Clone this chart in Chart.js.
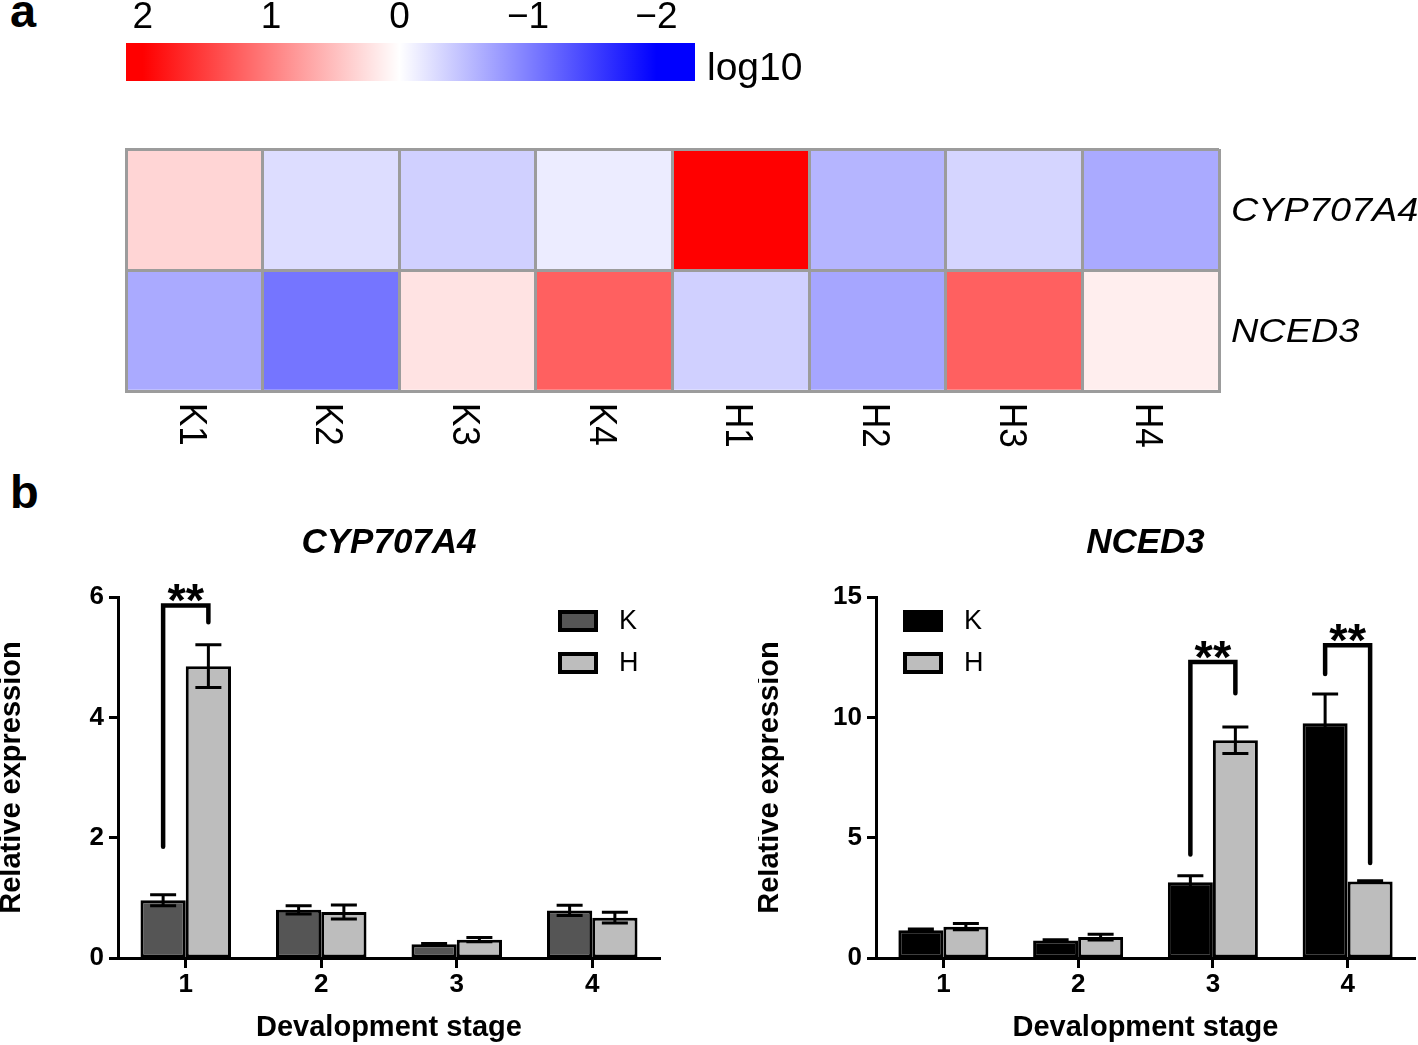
<!DOCTYPE html>
<html>
<head>
<meta charset="utf-8">
<script src="https://cdn.jsdelivr.net/npm/chart.js@4.4.1/dist/chart.umd.min.js"></script>
<style>
  html, body { margin: 0; padding: 0; background: #fff; }
  body { width: 1418px; height: 1045px; position: relative; overflow: hidden;
         font-family: "Liberation Sans", Arial, sans-serif; }
  .box { position: absolute; }
  .panel { position: absolute; font-weight: bold; font-size: 47px; line-height: 1; color: #000; }
</style>
</head>
<body>
<div class="panel" style="left:10px;top:-13px">a</div>
<div class="panel" style="left:10px;top:468px">b</div>

<div class="box" style="left:100px;top:0;width:720px;height:100px"><canvas id="scaleBar"></canvas></div>
<div class="box" style="left:100px;top:130px;width:1318px;height:340px"><canvas id="heatChart"></canvas></div>
<div class="box" style="left:0;top:510px;width:680px;height:535px"><canvas id="cypChart"></canvas></div>
<div class="box" style="left:758px;top:510px;width:660px;height:535px"><canvas id="ncedChart"></canvas></div>

<script>
// ---- heatmap (log10 fold change) ----
const samples = ["K1", "K2", "K3", "K4", "H1", "H2", "H3", "H4"];
const cypLog = [0.33, -0.27, -0.37, -0.15, 2.0, -0.58, -0.33, -0.67];
const ncedLog = [-0.67, -1.08, 0.22, 1.25, -0.37, -0.70, 1.25, 0.13];
const colorTicks = [2, 1, 0, -1, -2];

// ---- qPCR bars ----
const stages = ["1", "2", "3", "4"];
const cypK = [0.96, 0.80, 0.23, 0.79];
const cypKErr = [0.09, 0.07, 0.01, 0.085];
const cypH = [4.85, 0.765, 0.305, 0.67];
const cypHErr = [0.355, 0.115, 0.035, 0.09];
const ncedK = [1.15, 0.73, 3.15, 9.75];
const ncedKErr = [0.05, 0.03, 0.27, 1.22];
const ncedH = [1.30, 0.87, 9.05, 3.18];
const ncedHErr = [0.13, 0.12, 0.55, 0.03];

// significance brackets: stage index, end of K leg, end of H leg, bracket top
const cypSigStage = [0];
const cypSigK = [1.85];
const cypSigH = [5.58];
const cypSigTop = [5.86];
const ncedSigStage = [2, 3];
const ncedSigK = [4.3, 11.8];
const ncedSigH = [11.0, 3.95];
const ncedSigTop = [12.3, 13.0];

const FONT = '"Liberation Sans", Arial, sans-serif';
Chart.defaults.font.family = FONT;
Chart.defaults.color = "#000";

function heatColor(v) {
  const t = Math.min(Math.abs(v) / 2, 1);
  const c = Math.round(255 * (1 - t));
  return v >= 0 ? `rgb(255,${c},${c})` : `rgb(${c},${c},255)`;
}

function minusLabel(t) {
  return t < 0 ? "\u2212" + (-t) : String(t);
}

// colour key
const colorBarPlugin = {
  id: "colorBar",
  afterDraw(chart) {
    const ctx = chart.ctx, x = chart.scales.x, ca = chart.chartArea;
    ctx.save();
    const g = ctx.createLinearGradient(x.getPixelForValue(2), 0, x.getPixelForValue(-2), 0);
    g.addColorStop(0, heatColor(2));
    g.addColorStop(0.5, heatColor(0));
    g.addColorStop(1, heatColor(-2));
    ctx.fillStyle = g;
    ctx.fillRect(ca.left, ca.top, ca.width, ca.height);
    ctx.fillStyle = "#000";
    ctx.font = "37px " + FONT;
    ctx.textAlign = "center";
    ctx.textBaseline = "alphabetic";
    colorTicks.forEach(t => ctx.fillText(minusLabel(t), x.getPixelForValue(t), 28));
    ctx.font = "39px " + FONT;
    ctx.textAlign = "left";
    ctx.fillText("log10", ca.right + 12, 80);
    ctx.restore();
  }
};

new Chart(document.getElementById("scaleBar"), {
  type: "line",
  data: { datasets: [] },
  options: {
    responsive: true, maintainAspectRatio: false, animation: false,
    layout: { padding: { left: 26, right: 125, top: 43, bottom: 19 } },
    scales: {
      x: { type: "linear", reverse: true, min: -2.3, max: 2.13, display: false },
      y: { display: false }
    },
    plugins: { legend: { display: false }, tooltip: { enabled: false } }
  },
  plugins: [colorBarPlugin]
});

// sample and gene labels of the heatmap
const heatLabelPlugin = {
  id: "heatLabels",
  afterDraw(chart) {
    const ctx = chart.ctx, x = chart.scales.x, y = chart.scales.y, ca = chart.chartArea;
    ctx.save();
    ctx.fillStyle = "#000";
    ctx.textAlign = "left";
    ctx.textBaseline = "alphabetic";
    ctx.font = "35px " + FONT;
    samples.forEach((s, i) => {
      ctx.save();
      ctx.translate(x.getPixelForValue(i) - 14.5, ca.bottom + 12);
      ctx.scale(1.12, 1);
      ctx.rotate(Math.PI / 2);
      ctx.fillText(s, 0, 0);
      ctx.restore();
    });
    ctx.font = "italic 32.5px " + FONT;
    chart.data.datasets.forEach((ds, d) => {
      ctx.save();
      ctx.translate(ca.right + 12, y.getPixelForValue(d + 0.5) + 11.7);
      ctx.scale(1.165, 1);
      ctx.fillText(ds.label, 0, 0);
      ctx.restore();
    });
    ctx.restore();
  }
};

const cellLine = "#9c9c9c";
new Chart(document.getElementById("heatChart"), {
  type: "bar",
  data: {
    labels: samples,
    datasets: [
      { label: "NCED3", data: samples.map(() => 1), backgroundColor: ncedLog.map(heatColor) },
      { label: "CYP707A4", data: samples.map(() => 1), backgroundColor: cypLog.map(heatColor) }
    ]
  },
  options: {
    responsive: true, maintainAspectRatio: false, animation: false,
    layout: { padding: { left: 26, right: 199, top: 19, bottom: 79 } },
    datasets: { bar: { barPercentage: 1, categoryPercentage: 1, borderWidth: 0 } },
    scales: {
      x: {
        stacked: true, offset: true, z: 1,
        grid: { offset: true, color: cellLine, lineWidth: 3, drawTicks: false, z: 1 },
        border: { color: cellLine, width: 3, z: 2 },
        ticks: { display: false },
        afterFit: s => { s.height = 0; }
      },
      y: {
        stacked: true, min: 0, max: 2, z: 1,
        grid: { color: cellLine, lineWidth: 3, drawTicks: false, z: 1 },
        border: { color: cellLine, width: 3, z: 2 },
        ticks: { display: false, stepSize: 1 },
        afterFit: s => { s.width = 0; }
      }
    },
    plugins: { legend: { display: false }, tooltip: { enabled: false } }
  },
  plugins: [heatLabelPlugin]
});

// error bars, brackets, title and legend of the bar panels
const panels = {
  cypChart: { title: "CYP707A4", legendX: 558, sig: { stage: cypSigStage, k: cypSigK, h: cypSigH, top: cypSigTop } },
  ncedChart: { title: "NCED3", legendX: 145, sig: { stage: ncedSigStage, k: ncedSigK, h: ncedSigH, top: ncedSigTop } }
};

const annotPlugin = {
  id: "annot",
  afterDatasetsDraw(chart) {
    const ctx = chart.ctx, y = chart.scales.y;
    const p = panels[chart.canvas.id];
    ctx.save();
    ctx.strokeStyle = "#000";
    ctx.lineWidth = 3;
    chart.data.datasets.forEach((ds, d) => {
      chart.getDatasetMeta(d).data.forEach((bar, i) => {
        const v = ds.data[i], e = ds.errors[i];
        const top = y.getPixelForValue(v + e), bot = y.getPixelForValue(v - e);
        ctx.beginPath();
        ctx.moveTo(bar.x, top); ctx.lineTo(bar.x, bot);
        ctx.moveTo(bar.x - 13, top); ctx.lineTo(bar.x + 13, top);
        ctx.moveTo(bar.x - 13, bot); ctx.lineTo(bar.x + 13, bot);
        ctx.stroke();
      });
    });
    ctx.lineWidth = 4.5;
    ctx.lineCap = "round";
    ctx.fillStyle = "#000";
    ctx.font = "bold 47px " + FONT;
    ctx.textAlign = "center";
    ctx.textBaseline = "alphabetic";
    p.sig.stage.forEach((s, j) => {
      const kx = chart.getDatasetMeta(0).data[s].x;
      const hx = chart.getDatasetMeta(1).data[s].x;
      const ty = y.getPixelForValue(p.sig.top[j]);
      ctx.beginPath();
      ctx.moveTo(kx, y.getPixelForValue(p.sig.k[j]));
      ctx.lineTo(kx, ty);
      ctx.lineTo(hx, ty);
      ctx.lineTo(hx, y.getPixelForValue(p.sig.h[j]));
      ctx.stroke();
      ctx.fillText("**", (kx + hx) / 2, ty + 11);
    });
    ctx.restore();
  },
  afterDraw(chart) {
    const ctx = chart.ctx, ca = chart.chartArea;
    const p = panels[chart.canvas.id];
    ctx.save();
    ctx.fillStyle = "#000";
    ctx.font = "italic bold 35px " + FONT;
    ctx.textAlign = "center";
    ctx.textBaseline = "alphabetic";
    ctx.fillText(p.title, (ca.left + ca.right) / 2, 43);
    ctx.font = "27px " + FONT;
    ctx.textAlign = "left";
    ctx.textBaseline = "middle";
    ctx.lineWidth = 4;
    ctx.strokeStyle = "#000";
    chart.data.datasets.forEach((ds, d) => {
      const bx = p.legendX, by = 100 + d * 42;
      ctx.fillStyle = ds.backgroundColor;
      ctx.fillRect(bx, by, 40, 22);
      ctx.strokeRect(bx + 2, by + 2, 36, 18);
      ctx.fillStyle = "#000";
      ctx.fillText(ds.label, bx + 61, by + 12);
    });
    ctx.restore();
  }
};

function barChart(id, k, kErr, kColor, h, hErr, yMax, yStep, padRight) {
  return new Chart(document.getElementById(id), {
    type: "bar",
    data: {
      labels: stages,
      datasets: [
        { label: "K", data: k, errors: kErr, backgroundColor: kColor },
        { label: "H", data: h, errors: hErr, backgroundColor: "#bdbdbd" }
      ]
    },
    options: {
      responsive: true, maintainAspectRatio: false, animation: false,
      layout: { padding: { left: 0, right: padRight, top: 87, bottom: 0 } },
      datasets: {
        bar: { borderColor: "#000", borderWidth: 3, borderSkipped: false,
               categoryPercentage: 0.668, barPercentage: 1 }
      },
      scales: {
        x: {
          grid: { offset: false, drawOnChartArea: false, tickLength: 10, tickWidth: 3, tickColor: "#000" },
          border: { color: "#000", width: 3 },
          ticks: { color: "#000", font: { size: 26, weight: "bold" }, padding: 1 },
          title: { display: true, text: "Devalopment stage", color: "#000",
                   font: { size: 29, weight: "bold" }, padding: 0 },
          afterFit: s => { s.height = 87; }
        },
        y: {
          min: 0, max: yMax,
          ticks: { stepSize: yStep, color: "#000", font: { size: 26, weight: "bold" }, padding: 5 },
          grid: { drawOnChartArea: false, tickLength: 9, tickWidth: 3, tickColor: "#000" },
          border: { color: "#000", width: 3 },
          title: { display: true, text: "Relative expression", color: "#000",
                   font: { size: 29, weight: "bold", lineHeight: 0.85 }, padding: 0 },
          afterFit: s => { s.width = 118; }
        }
      },
      plugins: { legend: { display: false }, tooltip: { enabled: false } }
    },
    plugins: [annotPlugin]
  });
}

barChart("cypChart", cypK, cypKErr, "#555555", cypH, cypHErr, 6, 2, 20);
barChart("ncedChart", ncedK, ncedKErr, "#000000", ncedH, ncedHErr, 15, 5, 3);
</script>
</body>
</html>
